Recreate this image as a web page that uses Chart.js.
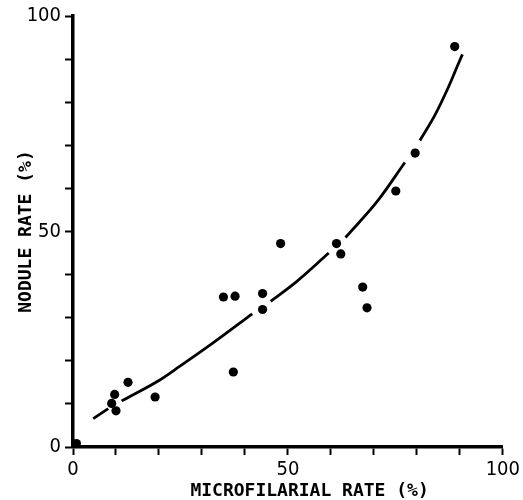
<!DOCTYPE html>
<html>
<head>
<meta charset="utf-8">
<script src="https://cdn.jsdelivr.net/npm/chart.js@4/dist/chart.umd.min.js"></script>
<style>
  html, body { margin: 0; padding: 0; background: #fff; }
  #c { display: block; }
</style>
</head>
<body>
<canvas id="c" width="523" height="500"></canvas>
<script>
// Observed villages: microfilarial rate (%) vs nodule rate (%)
const obsX = [0.8, 9.0, 9.7, 10.0, 12.8, 19.1, 35.0, 37.7, 37.3, 44.1, 44.1, 48.3, 61.3, 62.3, 67.4, 68.4, 75.1, 79.6, 88.8];
const obsY = [0.8, 10.1, 12.2, 8.4, 15.0, 11.6, 34.8, 35.0, 17.4, 35.6, 31.9, 47.2, 47.2, 44.8, 37.1, 32.3, 59.4, 68.2, 92.9];

// Fitted curve (null = gap where the line breaks at a dot)
const fitX = [4.7, 8.2, 9.7, 11.3, 20.1, 24.8, 32.5, 41.7, 44.0, 46.0, 51.8, 59.5, 61.5, 63.4, 71.1, 77.2, 79.0, 80.7, 84.2, 87.3, 89.6, 90.6];
const fitY = [6.6, 8.9, null, 10.7, 15.5, 18.7, 24.1, 30.9, null, 33.8, 38.2, 45.0, null, 48.6, 57.4, 66.0, null, 71.1, 77.0, 83.4, 88.8, 91.1];

const xLabels = [0, 50, 100];
const yLabels = [0, 50, 100];

const xTitle = "    MICROFILARIAL RATE (%)";
const yTitle = "NODULE RATE (%)";

const obsPts = obsX.map((x, i) => ({ x: x, y: obsY[i] }));
const fitPts = fitX.map((x, i) => ({ x: x, y: fitY[i] }));

const tickFont = { family: "'Liberation Sans Narrow', 'DejaVu Sans Condensed', 'Liberation Sans', sans-serif", size: 20 };
const titleFont = { family: "'DejaVu Sans Mono', 'Liberation Mono', monospace", size: 18, weight: 'bold', lineHeight: 1 };

new Chart(document.getElementById('c'), {
  type: 'scatter',
  data: {
    datasets: [
      {
        label: 'fit',
        data: fitPts,
        showLine: true,
        spanGaps: false,
        borderColor: '#000',
        borderWidth: 2.8,
        pointRadius: 0,
        cubicInterpolationMode: 'monotone',
        fill: false
      },
      {
        label: 'observed',
        data: obsPts,
        showLine: false,
        pointRadius: 4.6,
        pointBackgroundColor: '#000',
        pointBorderColor: '#000',
        pointBorderWidth: 0,
        clip: false
      }
    ]
  },
  options: {
    responsive: false,
    animation: false,
    devicePixelRatio: 1,
    layout: { padding: { left: 0, right: 18, top: 15, bottom: 0 } },
    plugins: { legend: { display: false }, tooltip: { enabled: false } },
    scales: {
      x: {
        type: 'linear',
        min: 0, max: 100,
        afterFit: (s) => { s.height = 53; },
        border: { display: true, color: '#000', width: 3.5 },
        grid: { display: true, drawOnChartArea: false, drawTicks: true, tickLength: 8, tickWidth: 2, color: '#000' },
        ticks: {
          stepSize: 10,
          color: '#000',
          font: tickFont,
          padding: 3,
          maxRotation: 0,
          autoSkip: false,
          callback: (v) => xLabels.includes(v) ? String(v) : ''
        },
        title: { display: true, text: xTitle, color: '#000', font: titleFont, padding: { top: 0, bottom: 0 } }
      },
      y: {
        type: 'linear',
        min: 0, max: 100,
        afterFit: (s) => { s.width = 73; },
        border: { display: true, color: '#000', width: 3.5 },
        grid: { display: true, drawOnChartArea: false, drawTicks: true, tickLength: 8, tickWidth: 2, color: '#000' },
        ticks: {
          stepSize: 10,
          color: '#000',
          font: tickFont,
          padding: 4,
          autoSkip: false,
          callback: (v) => yLabels.includes(v) ? String(v) : ''
        },
        title: { display: true, text: yTitle, color: '#000', font: titleFont, padding: { top: 17, bottom: 0 } }
      }
    }
  }
});
</script>
</body>
</html>
